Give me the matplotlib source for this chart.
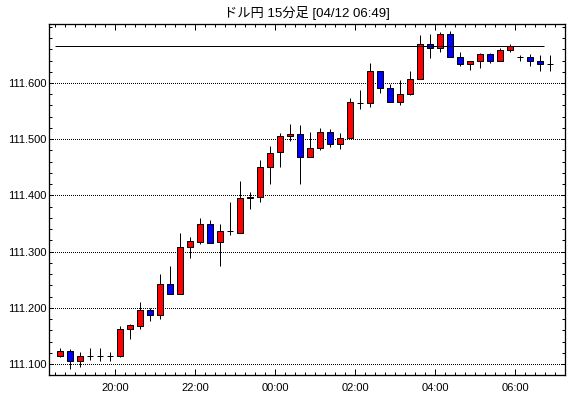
import matplotlib
matplotlib.use("Agg")
import matplotlib.pyplot as plt
from matplotlib.ticker import MultipleLocator, FixedLocator
import numpy as np
import pandas as pd

# ---- data (USD/JPY 15-minute candles) ----
opens = [111.115, 111.123, 111.105, 111.114, 111.114, 111.114, 111.115, 111.162, 111.168, 111.196,
         111.188, 111.242, 111.225, 111.308, 111.318, 111.349, 111.317, 111.336, 111.334, 111.395,
         111.398, 111.450, 111.477, 111.505, 111.509, 111.469, 111.484, 111.512, 111.491, 111.503,
         111.564, 111.564, 111.621, 111.592, 111.566, 111.580, 111.608, 111.669, 111.662, 111.687,
         111.646, 111.633, 111.639, 111.651, 111.639, 111.658, 111.646, 111.646, 111.640, 111.633]
highs = [111.129, 111.127, 111.121, 111.128, 111.128, 111.121, 111.168, 111.172, 111.210, 111.200,
         111.260, 111.274, 111.334, 111.326, 111.360, 111.356, 111.349, 111.388, 111.426, 111.406,
         111.463, 111.488, 111.511, 111.527, 111.525, 111.512, 111.520, 111.518, 111.511, 111.573,
         111.588, 111.636, 111.621, 111.599, 111.605, 111.622, 111.685, 111.688, 111.690, 111.692,
         111.655, 111.639, 111.653, 111.653, 111.662, 111.670, 111.649, 111.651, 111.649, 111.649]
lows = [111.112, 111.092, 111.095, 111.108, 111.106, 111.106, 111.112, 111.145, 111.162, 111.177,
        111.181, 111.224, 111.225, 111.289, 111.314, 111.316, 111.275, 111.329, 111.334, 111.376,
        111.388, 111.421, 111.451, 111.496, 111.421, 111.468, 111.480, 111.486, 111.483, 111.503,
        111.553, 111.558, 111.582, 111.566, 111.560, 111.578, 111.608, 111.644, 111.656, 111.646,
        111.630, 111.624, 111.626, 111.635, 111.639, 111.656, 111.640, 111.631, 111.621, 111.621]
closes = [111.123, 111.105, 111.115, 111.114, 111.114, 111.114, 111.162, 111.169, 111.196, 111.188,
          111.242, 111.225, 111.308, 111.319, 111.349, 111.316, 111.336, 111.336, 111.395, 111.398,
          111.450, 111.475, 111.505, 111.510, 111.469, 111.484, 111.512, 111.491, 111.503, 111.566,
          111.564, 111.621, 111.592, 111.566, 111.580, 111.608, 111.669, 111.662, 111.687, 111.646,
          111.633, 111.639, 111.651, 111.639, 111.658, 111.665, 111.646, 111.640, 111.633, 111.633]

first_time = "2019-04-11 18:30"
tick_labels = ["20:00", "22:00", "00:00", "02:00", "04:00", "06:00"]
tick_times = ["2019-04-11 20:00", "2019-04-11 22:00", "2019-04-12 00:00",
              "2019-04-12 02:00", "2019-04-12 04:00", "2019-04-12 06:00"]
y_ticks = [111.100, 111.200, 111.300, 111.400, 111.500, 111.600]
ref_level = 111.665
ref_end_time = "2019-04-12 06:43"
title = "ドル円 15分足 [04/12 06:49]"

# ---- derived positions (minutes since first candle) ----
t0 = pd.Timestamp(first_time)
times = pd.date_range(t0, periods=len(opens), freq="15min")
x = (times - t0).total_seconds().to_numpy() / 60.0 + 7.5
tick_pos = [(pd.Timestamp(t) - t0).total_seconds() / 60.0 for t in tick_times]
ref_end = (pd.Timestamp(ref_end_time) - t0).total_seconds() / 60.0

o = np.array(opens); c = np.array(closes); h = np.array(highs); l = np.array(lows)

fig = plt.figure(figsize=(5.70, 3.98), dpi=100)
ax = fig.add_axes([49 / 570, (398 - 375) / 398, (565 - 49) / 570, (375 - 24) / 398])

lw = 0.72
ax.vlines(x, l, h, color="black", linewidth=lw, zorder=2)
colors = np.where(c > o, "#ff0000", np.where(c < o, "#0000ff", "black"))
ax.bar(x, c - o, bottom=o, width=9, color=colors, edgecolor="black",
       linewidth=lw, zorder=3)

ax.hlines(ref_level, 0, ref_end, color="black", linewidth=lw, zorder=4)

ax.set_xlim(-9.45, 764.5)
ax.set_ylim(111.0805, 111.705)

ax.yaxis.set_major_locator(FixedLocator(y_ticks))
ax.yaxis.set_minor_locator(MultipleLocator(0.02))
ax.set_yticklabels([f"{v:.3f}" for v in y_ticks])
ax.xaxis.set_major_locator(FixedLocator(tick_pos))
ax.xaxis.set_minor_locator(MultipleLocator(15))
ax.set_xticklabels(tick_labels)

ax.grid(axis="y", which="major", color="black", linestyle=(0.5, (1, 1)), linewidth=lw)

for s in ax.spines.values():
    s.set_linewidth(lw * 1.3)
ax.tick_params(axis="both", which="both", direction="in", top=True, right=True,
               width=lw, colors="black")
ax.tick_params(axis="y", which="major", length=3, pad=1.5)
ax.tick_params(axis="y", which="minor", length=2.2)
ax.tick_params(axis="x", which="major", length=4, pad=5.5)
ax.tick_params(axis="x", which="minor", length=2.2)
for lab in ax.get_xticklabels() + ax.get_yticklabels():
    lab.set_fontfamily("Liberation Sans")
    lab.set_fontsize(8)

fig.text(307 / 570, 1 - 13 / 398, title, ha="center", va="center", fontsize=9.5,
         family=["Liberation Sans", "Noto Sans CJK JP"])

fig.savefig("out.png", dpi=100)
